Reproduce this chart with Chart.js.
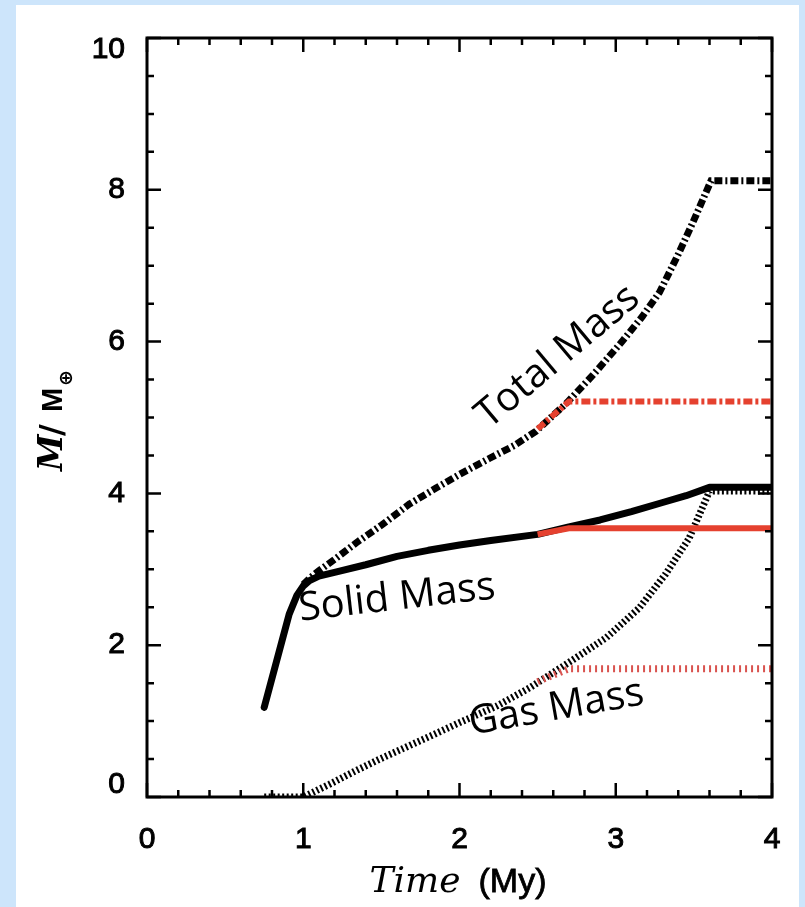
<!DOCTYPE html>
<html>
<head>
<meta charset="utf-8">
<script src="https://cdn.jsdelivr.net/npm/chart.js@4/dist/chart.umd.min.js"></script>
<style>
  html, body { margin: 0; padding: 0; }
  body { width: 805px; height: 907px; background: #cde5fb; position: relative; overflow: hidden; }
  #panel { position: absolute; left: 16px; top: 5px; width: 783px; height: 902px; background: #fff; }
  #chart { position: absolute; left: 0; top: 0; }
</style>
</head>
<body>
<div id="panel"></div>
<canvas id="chart" width="805" height="907"></canvas>
<script>

	/* Data (time in My, mass in Earth masses) */
	var solidTime = [0.75, 0.91, 0.96, 1.0, 1.04, 1.1, 1.2, 1.4, 1.6, 1.8, 2.0, 2.2, 2.5, 2.7, 2.9, 3.1, 3.3, 3.45, 3.6, 4.0];
	var solidMass = [1.18, 2.41, 2.66, 2.78, 2.85, 2.91, 2.96, 3.06, 3.17, 3.25, 3.32, 3.38, 3.46, 3.56, 3.65, 3.76, 3.88, 3.97, 4.08, 4.08];

	var solidRedTime = [2.5, 2.7, 4.0];
	var solidRedMass = [3.46, 3.54, 3.54];

	var totalTime = [1.0, 1.04, 1.1, 1.2, 1.34, 1.5, 1.68, 1.85, 2.0, 2.19, 2.35, 2.49, 2.69, 2.85, 3.04, 3.17, 3.28, 3.4, 3.5, 3.61, 4.0];
	var totalMass = [2.8, 2.88, 2.98, 3.13, 3.35, 3.58, 3.86, 4.07, 4.25, 4.46, 4.63, 4.82, 5.2, 5.55, 6.0, 6.33, 6.65, 7.15, 7.6, 8.12, 8.12];

	var totalRedTime = [2.5, 2.7, 4.0];
	var totalRedMass = [4.85, 5.21, 5.21];

	var gasTime = [0.75, 1.0, 1.17, 1.33, 1.49, 1.64, 1.8, 2.0, 2.24, 2.45, 2.72, 2.94, 3.15, 3.32, 3.47, 3.6, 4.0];
	var gasMass = [0, 0, 0.17, 0.34, 0.5, 0.64, 0.79, 0.98, 1.2, 1.44, 1.8, 2.1, 2.49, 2.94, 3.41, 4.03, 4.03];

	var gasRedTime = [2.5, 2.7, 4.0];
	var gasRedMass = [1.52, 1.69, 1.69];

	var xTicks = [0, 1, 2, 3, 4];
	var yTicks = [0, 2, 4, 6, 8, 10];

	/* Curve labels: text, position (data units), rotation (deg) */
	var curveLabels = [
		{ text: 'Total Mass', x: 2.63, y: 5.8, angle: -40 },
		{ text: 'Solid Mass', x: 1.6, y: 2.62, angle: -6.5 },
		{ text: 'Gas Mass', x: 2.62, y: 1.17, angle: -10 }
	];

	var RED = '#e5412f';

	function toPoints(xs, ys) {
		return xs.map(function(x, i) { return { x: x, y: ys[i] }; });
	}


	/* ********************************

	    Frame, inward ticks, titles, labels

	******************************** */

	var framePlugin = {
		id: 'frame',
		afterDatasetsDraw: function(chart) {
			var ctx = chart.ctx;
			var xs = chart.scales.x, ys = chart.scales.y;
			ctx.save();
			ctx.fillStyle = '#000';
			ctx.font = '40px "Open Sans"';
			ctx.textAlign = 'center';
			ctx.textBaseline = 'middle';
			curveLabels.forEach(function(l) {
				ctx.save();
				ctx.translate(xs.getPixelForValue(l.x), ys.getPixelForValue(l.y));
				ctx.rotate(l.angle * Math.PI / 180);
				ctx.fillText(l.text, 0, 0);
				ctx.restore();
			});
			ctx.restore();
		},
		afterDraw: function(chart) {
			var ctx = chart.ctx;
			var a = chart.chartArea;
			var xs = chart.scales.x, ys = chart.scales.y;
			ctx.save();
			ctx.strokeStyle = '#000';
			ctx.lineWidth = 3;
			ctx.strokeRect(a.left, a.top, a.right - a.left, a.bottom - a.top);

			ctx.lineWidth = 2.5;
			ctx.beginPath();
			var v, p, len;
			for (v = 0; v <= 4.0001; v += 0.2) {
				p = xs.getPixelForValue(v);
				len = Math.abs(v - Math.round(v)) < 0.01 ? 14 : 7;
				ctx.moveTo(p, a.bottom); ctx.lineTo(p, a.bottom - len);
				ctx.moveTo(p, a.top); ctx.lineTo(p, a.top + len);
			}
			for (v = 0; v <= 10.0001; v += 0.5) {
				p = ys.getPixelForValue(v);
				len = Math.abs(v / 2 - Math.round(v / 2)) < 0.01 ? 14 : 7;
				ctx.moveTo(a.left, p); ctx.lineTo(a.left + len, p);
				ctx.moveTo(a.right, p); ctx.lineTo(a.right - len, p);
			}
			ctx.stroke();

			/* x title: Time (My) */
			ctx.fillStyle = '#000';
			ctx.textBaseline = 'alphabetic';
			ctx.textAlign = 'left';
			var f1 = 'italic 36px "DejaVu Serif"';
			var f2 = '34px "Liberation Sans"';
			ctx.font = f1;
			var w1 = ctx.measureText('Time').width;
			ctx.font = f2;
			var w2 = ctx.measureText('(My)').width;
			var gap = 18;
			var x0 = 458 - (w1 + gap + w2) / 2;
			ctx.font = f1;
			ctx.fillText('Time', x0, 892);
			ctx.font = f2;
			ctx.lineWidth = 0.8;
			ctx.strokeStyle = '#000';
			ctx.fillText('(My)', x0 + w1 + gap, 892);
			ctx.strokeText('(My)', x0 + w1 + gap, 892);

			/* y title: M/M⊕ */
			ctx.translate(62, 469);
			ctx.rotate(-Math.PI / 2);
			ctx.font = 'bold italic 33px "DejaVu Serif"';
			ctx.fillText('M', -2, 0);
			ctx.font = 'bold 32px "DejaVu Sans"';
			ctx.fillText('/', 33, 0);
			ctx.font = 'bold 29px "Liberation Sans"';
			ctx.fillText('M', 57, 0);
			ctx.font = 'bold 19px "DejaVu Sans"';
			ctx.fillText('\u2295', 83, 10);
			ctx.restore();
		}
	};


	/* ********************************

	    Chart

	******************************** */

	function buildMassChart() {

		var datasets = [
			{ data: toPoints(solidRedTime, solidRedMass), borderColor: RED, borderWidth: 6, borderCapStyle: 'butt' },
			{ data: toPoints(totalRedTime, totalRedMass), borderColor: RED, borderWidth: 6, borderDash: [9, 3, 3, 3], borderCapStyle: 'butt' },
			{ data: toPoints(gasRedTime, gasRedMass), borderColor: '#d9534f', borderWidth: 7, borderDash: [2, 4], borderCapStyle: 'butt' },
			{ data: toPoints(solidTime, solidMass), borderColor: '#000', borderWidth: 7, borderCapStyle: 'round', borderJoinStyle: 'round' },
			{ data: toPoints(totalTime, totalMass), borderColor: '#000', borderWidth: 7, borderDash: [8, 3, 2, 3], borderCapStyle: 'butt' },
			{ data: toPoints(gasTime, gasMass), borderColor: '#000', borderWidth: 7, borderDash: [2, 2.5], borderCapStyle: 'butt' }
		];

		datasets.forEach(function(d) {
			d.pointRadius = 0;
			d.fill = false;
			d.tension = 0;
		});

		var tickFont = { family: '"Liberation Sans"', size: 30, lineHeight: 0.8 };

		var massChart = new Chart(document.getElementById('chart'), {
			type: 'line',
			data: { datasets: datasets },
			plugins: [framePlugin],
			options: {
				responsive: false,
				animation: false,
				layout: { padding: { top: 35, right: 33, left: 0, bottom: 0 } },
				plugins: {
					legend: { display: false },
					tooltip: { enabled: false }
				},
				scales: {
					x: {
						type: 'linear',
						min: 0,
						max: 4,
						afterBuildTicks: function(s) { s.ticks = xTicks.map(function(v) { return { value: v }; }); },
						afterFit: function(s) { s.height = 110; },
						ticks: { color: '#000', font: tickFont, padding: 23, maxRotation: 0, textStrokeWidth: 1, textStrokeColor: '#000' },
						grid: { display: false },
						border: { display: false }
					},
					y: {
						type: 'linear',
						min: 0,
						max: 10,
						afterBuildTicks: function(s) { s.ticks = yTicks.map(function(v) { return { value: v }; }); },
						afterFit: function(s) { s.width = 147; },
						ticks: {
							color: '#000',
							font: tickFont,
							padding: 14,
							textStrokeWidth: 1,
							textStrokeColor: '#000',
							callback: function(value) {
								if (value === 10) return ['', '10'];
								if (value === 0) return ['0', ''];
								return String(value);
							}
						},
						grid: { display: false },
						border: { display: false }
					}
				}
			}
		});
	};
	buildMassChart();

</script>
</body>
</html>
